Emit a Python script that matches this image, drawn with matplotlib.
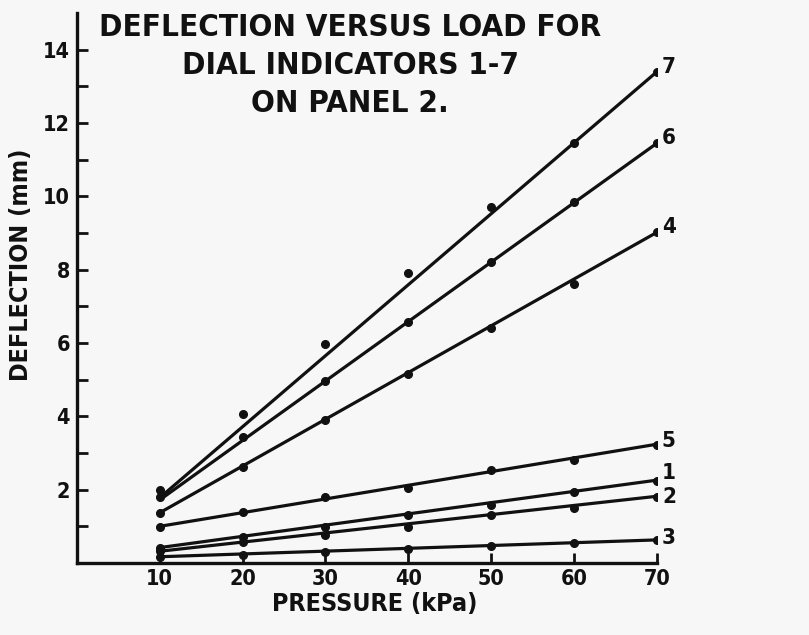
import matplotlib
matplotlib.use("Agg")
import matplotlib.pyplot as plt
from matplotlib import font_manager

# ---- data ----
pressure = [10, 20, 30, 40, 50, 60, 70]
indicator_ids = ["7", "6", "4", "5", "1", "2", "3"]
defl_7 = [2.00, 4.07, 5.96, 7.92, 9.70, 11.45, 13.38]
defl_6 = [1.80, 3.44, 4.97, 6.58, 8.20, 9.84, 11.45]
defl_4 = [1.37, 2.62, 3.91, 5.16, 6.42, 7.60, 9.02]
defl_5 = [0.98, 1.39, 1.80, 2.05, 2.54, 2.81, 3.22]
defl_1 = [0.42, 0.71, 0.98, 1.31, 1.58, 1.94, 2.24]
defl_2 = [0.32, 0.57, 0.77, 0.98, 1.31, 1.50, 1.80]
defl_3 = [0.15, 0.22, 0.30, 0.38, 0.46, 0.55, 0.63]
# fitted straight lines (value at 10 kPa, value at 70 kPa)
fit_7 = [1.78, 13.40]
fit_6 = [1.72, 11.45]
fit_4 = [1.37, 9.02]
fit_5 = [1.00, 3.24]
fit_1 = [0.42, 2.26]
fit_2 = [0.32, 1.82]
fit_3 = [0.17, 0.63]
fit_x = [10, 70]
yticks_major = [2, 4, 6, 8, 10, 12, 14]
xticks = [10, 20, 30, 40, 50, 60, 70]
title_lines = ["DEFLECTION VERSUS LOAD FOR", "DIAL INDICATORS 1-7", "ON PANEL 2."]

series = [defl_7, defl_6, defl_4, defl_5, defl_1, defl_2, defl_3]
fits = [fit_7, fit_6, fit_4, fit_5, fit_1, fit_2, fit_3]
label_dy = [0.15, 0.15, 0.15, 0.12, 0.22, 0.0, 0.05]

# look for a bold condensed/narrow face
cond = None
for f in font_manager.fontManager.ttflist:
    nm = (f.name + " " + str(f.fname)).lower()
    isbold = (isinstance(f.weight, int) and f.weight >= 600) or str(f.weight) in ("bold", "heavy", "black", "extra bold", "semibold", "demibold")
    iscond = ("condensed" in nm or "narrow" in nm or str(f.stretch) in ("condensed", "semi-condensed", "extra-condensed"))
    if isbold and iscond:
        cond = f.fname
        break

if cond is not None:
    def fp(size):
        return font_manager.FontProperties(fname=cond, size=size)
    scale = 1.0
else:
    def fp(size):
        return font_manager.FontProperties(family="DejaVu Sans", weight="bold", size=size)
    scale = 0.82

bg = "#f7f7f7"
fig = plt.figure(figsize=(8.09, 6.35), dpi=100, facecolor=bg)
ax = fig.add_axes([0.095, 0.1134, 0.717, 0.866], facecolor=bg)

ink = "#111111"
for vals, fit, lab, dy in zip(series, fits, indicator_ids, label_dy):
    ax.plot(fit_x, fit, color=ink, lw=2.3, solid_capstyle="round", zorder=3)
    ax.plot(pressure, vals, "o", color=ink, ms=5.5, zorder=4)
    ax.text(fit_x[-1] + 0.6, vals[-1] + dy, lab, fontproperties=fp(16 * scale),
            color=ink, ha="left", va="center")

ax.set_xlim(0, 70)
ax.set_ylim(0, 15)
for s in ["top", "right"]:
    ax.spines[s].set_visible(False)
for s in ["left", "bottom"]:
    ax.spines[s].set_linewidth(2.4)
    ax.spines[s].set_color(ink)
ax.spines["bottom"].set_bounds(0, 70)

ax.set_xticks(xticks)
ax.set_xticklabels([str(v) for v in xticks])
ax.set_yticks(yticks_major)
ax.set_yticklabels([str(v) for v in yticks_major])
ax.set_yticks(list(range(1, 15)), minor=True)
ax.tick_params(axis="y", which="both", direction="in", length=8, width=2, color=ink, pad=5)
ax.tick_params(axis="x", which="major", direction="in", length=7, width=2, color=ink, pad=4)
for t in ax.get_xticklabels() + ax.get_yticklabels():
    t.set_fontproperties(fp(15.5 * scale))
    t.set_color(ink)

ax.set_xlabel("PRESSURE (kPa)", fontproperties=fp(18 * scale), color=ink)
ax.set_ylabel("DEFLECTION (mm)", fontproperties=fp(18 * scale), color=ink)
ax.xaxis.set_label_coords(0.514, -0.052)
ax.yaxis.set_label_coords(-0.075, 0.542)

for i, line in enumerate(title_lines):
    fig.text(0.433, 0.956 - i * 0.0595, line, ha="center", va="center",
             fontproperties=fp(22.5 * (0.75 if cond is None else 1.0)), color=ink)

fig.savefig("out.png", dpi=100, facecolor=bg)
